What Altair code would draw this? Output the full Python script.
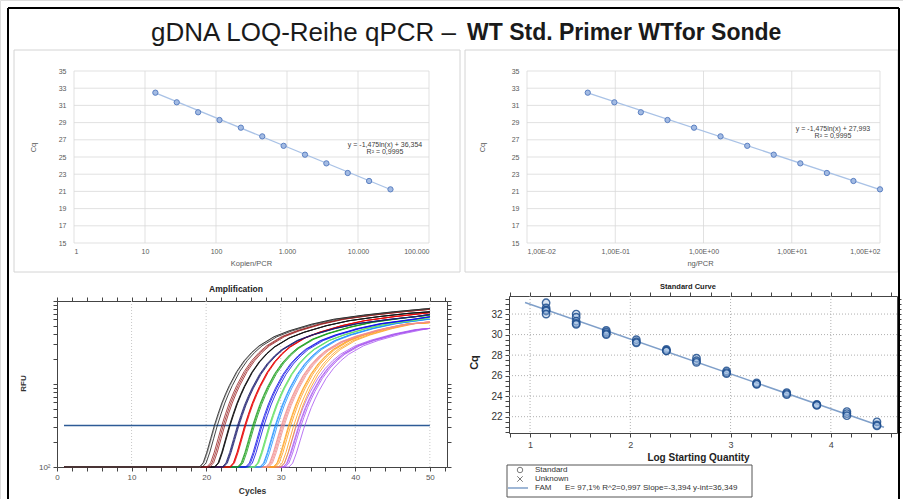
import altair as alt
import pandas as pd

# ---------------- data ----------------
copies = [14, 28, 56, 112, 224, 448, 896, 1792, 3584, 7168, 14336, 28672]
ng_per_pcr = [0.0488, 0.0977, 0.195, 0.391, 0.781, 1.56, 3.13, 6.25, 12.5, 25.0, 50.0, 100.0]
cq_mean = [32.48, 31.36, 30.2, 29.3, 28.41, 27.4, 26.3, 25.27, 24.26, 23.14, 22.21, 21.24]
trend_cq = [32.46, 21.22]          # Excel trend line at first / last point

log_qty = [1.16, 1.46, 1.76, 2.06, 2.36, 2.66, 2.96, 3.26, 3.56, 3.86, 4.16, 4.46]
rep_cq = [
    [33.1, 32.6, 32.4, 32.3, 32.0],
    [32.0, 31.7, 31.3, 31.1, 31.0],
    [30.4, 30.25, 30.1, 30.0],
    [29.5, 29.3, 29.2],
    [28.55, 28.45, 28.4],
    [27.7, 27.45, 27.3],
    [26.45, 26.3, 26.2],
    [25.3, 25.2, 25.15],
    [24.35, 24.25, 24.15],
    [23.2, 23.15, 23.1],
    [22.5, 22.3, 22.1],
    [21.5, 21.2, 21.1],
]
fit_x = [0.95, 4.53]
fit_cq = [33.12, 20.97]

level_colors = ['#a855f0', '#ff9f1a', '#f08c8c', '#1e90ff', '#66e066', '#0a0ae6',
                '#169c16', '#e60000', '#1c1c6e', '#111111', '#9b2222', '#1a1a1a']
alt_color_first = '#8c8c8c'

# amplification template: cycles relative to threshold crossing
tmpl_offset = [-2.0, -1.5, -1.0, -0.5, 0.0, 0.5, 1.0, 1.5, 2.0, 3.0, 4.0, 5.0, 6.0, 8.0, 10.0, 13.0, 16.0, 20.0, 24.0, 29.0]
tmpl_log = [2.0, 2.05, 2.18, 2.34, 2.5, 2.64, 2.77, 2.88, 2.98, 3.15, 3.28, 3.38, 3.46, 3.57, 3.64, 3.72, 3.78, 3.83, 3.87, 3.90]
plateau_scale = [0.93, 0.97, 0.96, 0.97, 0.97, 0.97, 0.98, 0.99, 0.97, 0.99, 1.0, 1.0]
end_log = [3.67, 3.74, 3.75, 3.78, 3.80, 3.81, 3.83, 3.86, 3.84, 3.87, 3.90, 3.91]
threshold_rfu = [316]

excel_x_ticks_a = [1, 10, 100, 1000, 10000, 100000]
excel_x_ticks_b = [0.01, 0.1, 1, 10, 100]
excel_y_ticks = list(range(15, 36, 2))
amp_grid = [10, 20, 30, 40, 50]
std_grid_x = [1, 2, 3, 4]
std_grid_y = [22, 24, 26, 28, 30, 32]

FONT = 'Liberation Sans'
W, H = 903, 499
one = pd.DataFrame({'k': [0]})

# ---------------- helpers ----------------
def vtext(text, x, y, size, color='#333', weight='normal', align='center', baseline='middle', angle=0):
    return alt.Chart(one).mark_text(text=text, fontSize=size, color=color, fontWeight=weight,
                                    align=align, baseline=baseline, angle=angle, font=FONT).encode(
        x=alt.value(x), y=alt.value(y))

def hrule(x1, x2, y, color, width=1.0):
    return alt.Chart(one).mark_rule(color=color, strokeWidth=width).encode(
        x=alt.value(x1), x2=alt.value(x2), y=alt.value(y))

def vrule(x, y1, y2, color, width=1.0):
    return alt.Chart(one).mark_rule(color=color, strokeWidth=width).encode(
        x=alt.value(x), y=alt.value(y1), y2=alt.value(y2))

def box(x1, x2, y1, y2, stroke, width=1.0, fill='white', fill_opacity=0.0):
    return alt.Chart(one).mark_rect(fill=fill, fillOpacity=fill_opacity, stroke=stroke,
                                    strokeWidth=width).encode(
        x=alt.value(x1), x2=alt.value(x2), y=alt.value(y1), y2=alt.value(y2))

layers = []

# ---------------- page decorations ----------------
layers += [
    box(14, 460, 50, 272, stroke='#d4d4d4'),
    box(465, 898, 50, 272, stroke='#d4d4d4'),
    hrule(8, 899, 8, 'black', 2),
    vrule(8, 8, 499, 'black', 2),
    vrule(899, 8, 499, 'black', 2),
    vtext('gDNA LOQ-Reihe qPCR \u2013', 456, 33, 26, color='#1a1a1a', align='right'),
    vtext('WT Std. Primer WTfor Sonde', 467, 33, 23, color='#1a1a1a', weight='bold', align='left'),
]

# ---------------- panels A / B (Excel charts) ----------------
excel_lab = dict(labelFont=FONT, labelFontSize=7, labelColor='#595959', titleFont=FONT,
                 titleFontSize=7.5, titleFontWeight='normal', titleColor='#595959',
                 grid=False, domain=False, ticks=False, labelOverlap=False,
                 titleAlign='center', titleBaseline='middle')

def excel_panel(xvals, xticks, xdom, x0, x1, label_expr, xtitle, xtitle_x, ytitle_x, eq, eq_x, eq_y):
    y0, y1 = 71, 243
    xs = alt.Scale(type='log', domain=xdom, range=[x0, x1], nice=False)
    ys = alt.Scale(domain=[15, 35], range=[y1, y0], nice=False, zero=False)
    out = []
    # gridlines
    out.append(alt.Chart(pd.DataFrame({'g': xticks})).mark_rule(color='#d9d9d9', strokeWidth=0.8).encode(
        x=alt.X('g:Q', scale=xs, axis=None), y=alt.value(y0), y2=alt.value(y1)))
    out.append(alt.Chart(pd.DataFrame({'g': excel_y_ticks})).mark_rule(color='#d9d9d9', strokeWidth=0.8).encode(
        y=alt.Y('g:Q', scale=ys, axis=None), x=alt.value(x0), x2=alt.value(x1)))
    # trend line
    out.append(alt.Chart(pd.DataFrame({'x': [xvals[0], xvals[-1]], 'y': trend_cq})).mark_line(
        color='#a9c2e6', strokeWidth=1.3).encode(
        x=alt.X('x:Q', scale=xs, axis=None), y=alt.Y('y:Q', scale=ys, axis=None)))
    # points with axes
    xax = alt.Axis(orient='bottom', values=xticks, labelExpr=label_expr, labelPadding=4,
                   offset=y1 - H, title=xtitle, titleX=xtitle_x, titleY=20, **excel_lab)
    yax = alt.Axis(orient='left', values=excel_y_ticks, labelPadding=8, offset=-x0,
                   title='Cq', titleX=ytitle_x, titleY=147, titleAngle=-90, **excel_lab)
    out.append(alt.Chart(pd.DataFrame({'x': xvals, 'y': cq_mean})).mark_point(
        shape='circle', size=28, filled=True, fill='#a3bbe3', stroke='#5b80c2', strokeWidth=1,
        opacity=1).encode(x=alt.X('x:Q', scale=xs, axis=xax), y=alt.Y('y:Q', scale=ys, axis=yax)))
    out.append(vtext(eq, eq_x, eq_y, 7, color='#404040'))
    out.append(vtext('R\u00b2 = 0,9995', eq_x, eq_y + 7, 7, color='#404040'))
    return out

layers += excel_panel(
    copies, excel_x_ticks_a, [1, 100000], 74, 429,
    "datum.value >= 1000 ? replace(format(datum.value, ','), ',', '.') : format(datum.value, 'd')",
    'Kopien/PCR', 251, -41, 'y = -1,475ln(x) + 36,354', 385, 145)
layers += excel_panel(
    ng_per_pcr, excel_x_ticks_b, [0.01, 100], 527, 880,
    "'1,00E' + (datum.value < 1 ? '-' : '+') + '0' + format(abs(round(log(datum.value) / LN10)), 'd')",
    'ng/PCR', 700, -45, 'y = -1,475ln(x) + 27,993', 833, 129)

# ---------------- panel C (Amplification) ----------------
CX0, CX1, CY0, CY1 = 57, 447, 301, 467
rows = []
wells, wcolors = [], []
for li, reps in enumerate(rep_cq):
    for ri, c in enumerate(reps):
        w = f'L{li:02d}R{ri}'
        wells.append(w)
        col = level_colors[li]
        if li == len(rep_cq) - 1 and ri % 2 == 1:
            col = alt_color_first
        wcolors.append(col)
        rows.append({'well': w, 'cycle': 1.0, 'rfu': 100.0})
        for off, lg in zip(tmpl_offset, tmpl_log):
            cyc = c + off
            if cyc < 49.6:
                rows.append({'well': w, 'cycle': cyc, 'rfu': 10 ** (2 + (lg - 2) * plateau_scale[li])})
        rows.append({'well': w, 'cycle': 50.0, 'rfu': 10 ** end_log[li]})
dfC = pd.DataFrame(rows)

xsC = alt.Scale(domain=[0, 52.3], range=[CX0, CX1], nice=False, zero=False)
ysC = alt.Scale(type='log', domain=[100, 10000], range=[CY1, CY0], nice=False)
ytickC = [100, 200, 300, 400, 500, 600, 700, 800, 900, 1000, 2000, 3000, 4000, 5000, 6000, 7000, 8000, 9000, 10000]
xtickC = list(range(0, 53, 2))
ax_common = dict(domainColor='#444', tickColor='#444', tickSize=4, grid=False, labelOverlap=False,
                 labelFont=FONT, titleFont=FONT, titleAlign='center', titleBaseline='middle')
xC_axis = alt.Axis(orient='bottom', offset=CY1 - H, values=xtickC,
                   labelExpr="datum.value % 10 == 0 ? datum.value : ''",
                   labelFontSize=8, labelColor='#555', labelPadding=2, labelFlush=False,
                   title='Cycles', titleFontSize=8.5, titleFontWeight='bold', titleColor='#333',
                   titleX=252, titleY=23, **ax_common)
yC_axis = alt.Axis(orient='left', offset=-CX0, values=ytickC,
                   labelExpr="datum.value == 100 ? '10\u00b2' : ''",
                   labelFontSize=8, labelColor='#555', labelPadding=3,
                   title='RFU', titleFontSize=8, titleFontWeight='bold', titleColor='#333',
                   titleAngle=-90, titleX=-34, titleY=383, **ax_common)
xC_top = alt.Axis(orient='top', offset=-CY0, values=xtickC, labels=False, title=None, **ax_common)
yC_right = alt.Axis(orient='right', offset=CX1 - W, values=ytickC, labels=False, title=None, **ax_common)

layers += [
    alt.Chart(pd.DataFrame({'gx': amp_grid})).mark_rule(
        color='#c8c8c8', strokeDash=[1, 2], strokeWidth=1).encode(
        x=alt.X('gx:Q', scale=xsC, axis=None), y=alt.value(CY0), y2=alt.value(CY1)),
    alt.Chart(pd.DataFrame({'t0': [0.94], 't1': [50.0], 'thr': threshold_rfu})).mark_rule(
        color='#2d5b96', strokeWidth=1.5).encode(
        x=alt.X('t0:Q', scale=xsC, axis=None), x2='t1:Q', y=alt.Y('thr:Q', scale=ysC, axis=None)),
    alt.Chart(dfC).mark_line(strokeWidth=0.9, opacity=0.9).encode(
        x=alt.X('cycle:Q', scale=xsC, axis=xC_axis),
        y=alt.Y('rfu:Q', scale=ysC, axis=yC_axis),
        color=alt.Color('well:N', scale=alt.Scale(domain=wells, range=wcolors), legend=None),
        detail='well:N', order='cycle:Q'),
    alt.Chart(pd.DataFrame({'cycle': [1.0], 'rfu': [100.0]})).mark_point(opacity=0).encode(
        x=alt.X('cycle:Q', scale=xsC, axis=xC_top), y=alt.Y('rfu:Q', scale=ysC, axis=yC_right)),
    vtext('Amplification', 236, 289, 8.5, color='#222', weight='bold'),
]

# ---------------- panel D (Standard Curve) ----------------
DX0, DX1, DY0, DY1 = 509, 897, 296, 433
xsD = alt.Scale(domain=[0.79, 4.66], range=[DX0, DX1], nice=False, zero=False)
ysD = alt.Scale(domain=[20.41, 33.76], range=[DY1, DY0], nice=False, zero=False)
xtickD = [round(0.8 + 0.2 * i, 1) for i in range(20)]
ytickD = [20.5 + 0.5 * i for i in range(27)]
xD_axis = alt.Axis(orient='bottom', offset=DY1 - H, values=xtickD,
                   labelExpr="abs(datum.value - round(datum.value)) < 0.01 ? format(datum.value, 'd') : ''",
                   labelFontSize=9, labelColor='#444', labelPadding=3,
                   title='Log Starting Quantity', titleFontSize=10, titleFontWeight='bold', titleColor='#222',
                   titleX=698, titleY=24, **ax_common)
yD_axis = alt.Axis(orient='left', offset=-DX0, values=ytickD,
                   labelExpr="abs(datum.value - round(datum.value)) < 0.01 && round(datum.value) % 2 == 0 ? format(datum.value, 'd') : ''",
                   labelFontSize=10, labelColor='#333', labelPadding=3,
                   title='Cq', titleFontSize=11, titleFontWeight='bold', titleColor='#222',
                   titleAngle=-90, titleX=-35, titleY=362, **ax_common)
xD_top = alt.Axis(orient='top', offset=-DY0, values=xtickD, labels=False, title=None, **ax_common)
yD_right = alt.Axis(orient='right', offset=DX1 - W, values=ytickD, labels=False, title=None, **ax_common)

std_rows = []
for lq, reps in zip(log_qty, rep_cq):
    for c in reps:
        std_rows.append({'lq': lq, 'cq': c})
dfD = pd.DataFrame(std_rows)

layers += [
    alt.Chart(pd.DataFrame({'gx': std_grid_x})).mark_rule(color='#b0b0b0', strokeDash=[1, 2]).encode(
        x=alt.X('gx:Q', scale=xsD, axis=None), y=alt.value(DY0), y2=alt.value(DY1)),
    alt.Chart(pd.DataFrame({'gy': std_grid_y})).mark_rule(color='#b0b0b0', strokeDash=[1, 2]).encode(
        y=alt.Y('gy:Q', scale=ysD, axis=None), x=alt.value(DX0), x2=alt.value(DX1)),
    alt.Chart(pd.DataFrame({'fx': fit_x, 'fy': fit_cq})).mark_line(color='#7f9fc9', strokeWidth=1.5).encode(
        x=alt.X('fx:Q', scale=xsD, axis=None), y=alt.Y('fy:Q', scale=ysD, axis=None)),
    alt.Chart(dfD).mark_point(shape='circle', size=55, filled=False, fill='#9dbde3',
                              fillOpacity=0.45, stroke='#1f4f8f', strokeWidth=1.4, opacity=0.85).encode(
        x=alt.X('lq:Q', scale=xsD, axis=xD_axis), y=alt.Y('cq:Q', scale=ysD, axis=yD_axis)),
    alt.Chart(pd.DataFrame({'lq': [2.0], 'cq': [26.0]})).mark_point(opacity=0).encode(
        x=alt.X('lq:Q', scale=xsD, axis=xD_top), y=alt.Y('cq:Q', scale=ysD, axis=yD_right)),
    vtext('Standard Curve', 688, 287, 7.5, color='#222', weight='bold'),
    # legend
    box(507, 752, 465, 497, stroke='#555', width=1, fill='white', fill_opacity=1.0),
    alt.Chart(one).mark_point(shape='circle', size=30, filled=False, stroke='#444', strokeWidth=1).encode(
        x=alt.value(520), y=alt.value(470)),
    alt.Chart(one).mark_point(shape='M-1,-1L1,1M-1,1L1,-1', size=30, filled=False, stroke='#444', strokeWidth=1).encode(
        x=alt.value(520), y=alt.value(479)),
    hrule(508, 528, 488, '#7f9fc9', 1.5),
    vtext('Standard', 535, 470, 8, color='#333', align='left'),
    vtext('Unknown', 535, 479, 8, color='#333', align='left'),
    vtext('FAM', 535, 488, 8, color='#333', align='left'),
    vtext('E= 97,1% R^2=0,997 Slope=-3,394 y-int=36,349', 565, 488, 8, color='#333', align='left'),
]

chart = alt.layer(*layers).resolve_scale(x='independent', y='independent').properties(
    width=W, height=H, padding=0, background='white',
    autosize=alt.AutoSizeParams(type='none')
).configure_view(stroke=None).configure(font=FONT)

chart.save("out.html", embed_options={"renderer": "svg", "actions": False})
